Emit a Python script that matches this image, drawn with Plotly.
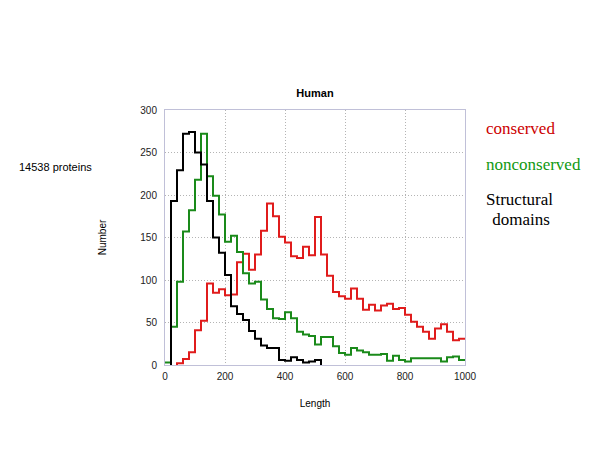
import plotly.graph_objects as go

# Bin left edges (bin width 20, length 0..1000)
edges_all = list(range(0, 1001, 20))

# Structural domains (black): bins 20..520
black_start = 20
black_vals = [193, 229, 272, 274, 250, 236, 193, 150, 132, 106, 69, 60, 53, 40, 31, 23, 20, 20,
              6, 5, 9, 6, 3, 4, 6]

# Nonconserved (green): bins 0..1000
green_start = 0
green_vals = [3, 45, 98, 157, 182, 218, 272, 222, 199, 177, 145, 152, 133, 108, 96, 98, 77, 66,
              55, 54, 62, 55, 39, 36, 34, 24, 33, 33, 22, 14, 12, 20, 17, 15, 12, 12, 13, 5,
              11, 6, 4, 8, 8, 8, 8, 8, 4, 9, 10, 6]

# Conserved (red): bins 40..1000
red_start = 40
red_vals = [2, 7, 15, 41, 52, 96, 85, 89, 82, 83, 121, 131, 112, 130, 158, 190, 175, 151, 144,
            128, 126, 139, 129, 174, 130, 105, 86, 81, 78, 90, 78, 65, 71, 64, 70, 72, 66, 67,
            59, 51, 45, 39, 31, 43, 48, 39, 29, 31]

x_ticks = [0, 200, 400, 600, 800, 1000]
y_ticks = [0, 50, 100, 150, 200, 250, 300]

# page body has an 8px margin; compensate so the figure lands where the reference does
OFF = 8


def step_xy(start, vals, drop_start=False, drop_end=False):
    i0 = edges_all.index(start)
    xs = edges_all[i0:i0 + len(vals) + 1]
    ys = list(vals) + [vals[-1]]
    if drop_start:
        xs = [xs[0]] + xs
        ys = [0] + ys
    if drop_end:
        xs = xs + [xs[-1]]
        ys = ys + [0]
    return xs, ys


fig = go.Figure()
bx, by = step_xy(black_start, black_vals, drop_start=True, drop_end=True)
gx, gy = step_xy(green_start, green_vals)
rx, ry = step_xy(red_start, red_vals, drop_start=True)

fig.add_trace(go.Scatter(x=rx, y=ry, mode="lines", line=dict(color="#e01c1c", width=2, shape="hv"),
                         showlegend=False))
fig.add_trace(go.Scatter(x=gx, y=gy, mode="lines", line=dict(color="#1a8a1a", width=2, shape="hv"),
                         showlegend=False))
fig.add_trace(go.Scatter(x=bx, y=by, mode="lines", line=dict(color="#000000", width=2, shape="hv"),
                         showlegend=False))

axis_common = dict(
    showline=True, mirror=True, linecolor="#c0c0d8", linewidth=1,
    showgrid=True, gridcolor="#b4b4b4", griddash="1px,2px", gridwidth=1,
    zeroline=False, ticks="", automargin=False,
    tickfont=dict(family="Arial, Liberation Sans", size=10, color="#222"),
)

L, T = 165 - OFF, 110 - OFF
fig.update_layout(
    width=600, height=450,
    margin=dict(l=L, r=600 - L - 300, t=T, b=450 - T - 255),
    paper_bgcolor="white", plot_bgcolor="white",
    title=dict(text="<b>Human</b>", x=(315 - OFF) / 600, xanchor="center",
               y=1 - (93 - OFF) / 450, yanchor="middle",
               yref="container", xref="container",
               font=dict(family="Arial, Liberation Sans", size=11, color="black")),
    xaxis=dict(range=[0, 1000], tickvals=x_ticks, ticktext=[str(v) for v in x_ticks],
               ticklabelstandoff=2,
               title=dict(text="Length", standoff=18,
                          font=dict(family="Arial, Liberation Sans", size=10, color="black")),
               **axis_common),
    yaxis=dict(range=[0, 300], tickvals=y_ticks, ticktext=[str(v) for v in y_ticks],
               ticklabelstandoff=5,
               title=dict(text="Number", standoff=31,
                          font=dict(family="Arial, Liberation Sans", size=10, color="black")),
               **axis_common),
)

serif = "Times New Roman, Liberation Serif, serif"
annots = [
    dict(text="14538 proteins", x=17, y=167, color="black", font="Arial, Liberation Sans", size=11),
    dict(text="conserved", x=484, y=129, color="#cc0000", font=serif, size=17),
    dict(text="nonconserved", x=484, y=164, color="#119911", font=serif, size=17),
    dict(text="Structural", x=484, y=199, color="black", font=serif, size=17),
    dict(text=" domains", x=486, y=219, color="black", font=serif, size=17),
]
for a in annots:
    fig.add_annotation(text=a["text"], xref="paper", yref="paper",
                       x=(a["x"] - 165) / 300, y=(365 - a["y"]) / 255,
                       xanchor="left", yanchor="middle", showarrow=False,
                       font=dict(family=a["font"], size=a["size"], color=a["color"]))

fig.write_html("out.html")
